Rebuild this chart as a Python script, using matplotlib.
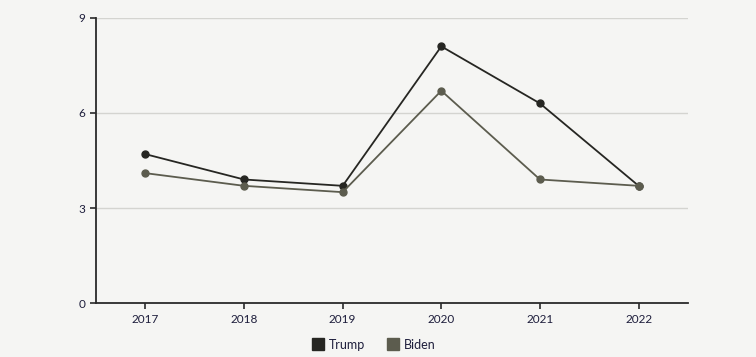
import matplotlib.pyplot as plt

years = [2017, 2018, 2019, 2020, 2021, 2022]
trump = [4.7, 3.9, 3.7, 8.1, 6.3, 3.7]
biden = [4.1, 3.7, 3.5, 6.7, 3.9, 3.7]
yticks = [0, 3, 6, 9]

plt.rcParams['font.family'] = ['Lato', 'DejaVu Sans']
bg = '#f5f5f3'
text_col = '#1e1e3c'

fig = plt.figure(figsize=(7.56, 3.57), dpi=100, facecolor=bg)
ax = fig.add_axes([0.127, 0.151, 0.783, 0.799], facecolor=bg)

ax.plot(years, trump, color='#262622', lw=1.3, marker='o', ms=5, label='Trump', zorder=3)
ax.plot(years, biden, color='#5c5c4e', lw=1.3, marker='o', ms=5, label='Biden', zorder=3)

ax.set_xlim(2016.5, 2022.5)
ax.set_ylim(0, 9)
ax.set_xticks(years)
ax.set_yticks(yticks)
ax.grid(axis='y', color='#d4d4d0', lw=1)
ax.set_axisbelow(True)
for s in ['top', 'right']:
    ax.spines[s].set_visible(False)
for s in ['left', 'bottom']:
    ax.spines[s].set_color('#2a2a2a')
    ax.spines[s].set_linewidth(1.3)
ax.tick_params(colors='#2a2a2a', labelcolor=text_col, labelsize=8.5, length=4, width=1.2)

leg = ax.legend(loc='upper center', bbox_to_anchor=(0.47, -0.085), ncol=2, frameon=False,
                fontsize=9, handlelength=0.8, handleheight=0.8, columnspacing=1.8,
                handletextpad=0.5, markerscale=1)
for h in leg.legend_handles:
    h.set_marker('s')
    h.set_linestyle('')
    h.set_markersize(8)
for t in leg.get_texts():
    t.set_color(text_col)

fig.savefig('out.png', dpi=100, facecolor=bg)
